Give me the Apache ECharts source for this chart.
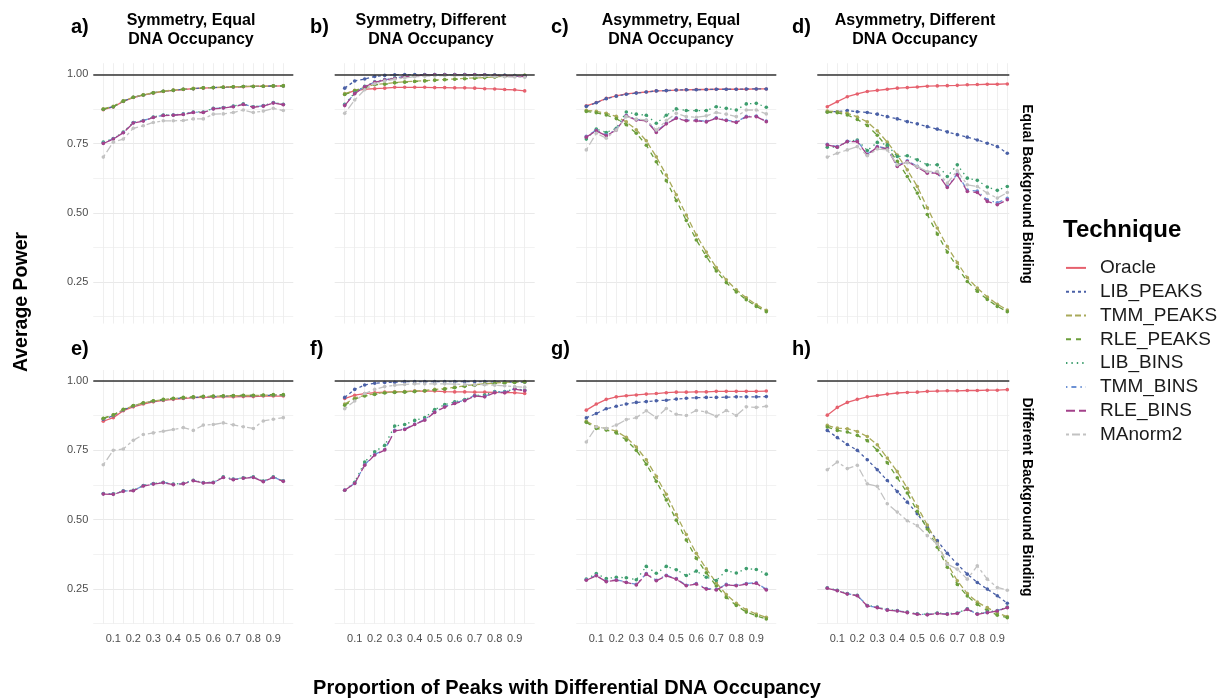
<!DOCTYPE html>
<html>
<head>
<meta charset="utf-8">
<script src="https://cdn.jsdelivr.net/npm/echarts@6/dist/echarts.min.js"></script>
<style>
html,body{margin:0;padding:0;background:#ffffff;}
#chart{width:1222px;height:698px;}
</style>
</head>
<body>
<div id="chart"></div>
<script>
// ---------- categories / ticks ----------
const xValues = [0.05,0.10,0.15,0.20,0.25,0.30,0.35,0.40,0.45,0.50,0.55,0.60,0.65,0.70,0.75,0.80,0.85,0.90,0.95];
const techniques = ['Oracle','LIB_PEAKS','TMM_PEAKS','RLE_PEAKS','LIB_BINS','TMM_BINS','RLE_BINS','MAnorm2'];
const panelIds = ['a','b','c','d','e','f','g','h'];
const panelTitles = ['Symmetry, Equal\nDNA Occupancy','Symmetry, Different\nDNA Occupancy','Asymmetry, Equal\nDNA Occupancy','Asymmetry, Different\nDNA Occupancy'];
const rowStrips = ['Equal Background Binding','Different Background Binding'];
const yTickLabels = [0.25,0.50,0.75,1.00];
const xTickLabels = [0.1,0.2,0.3,0.4,0.5,0.6,0.7,0.8,0.9];

// ---------- panel a ----------
const a_Oracle    = [0.872,0.882,0.902,0.916,0.925,0.932,0.938,0.942,0.945,0.948,0.950,0.952,0.953,0.954,0.955,0.956,0.957,0.957,0.958];
const a_LIB_PEAKS = [0.874,0.883,0.903,0.917,0.925,0.933,0.939,0.942,0.946,0.948,0.951,0.952,0.953,0.954,0.956,0.956,0.957,0.958,0.958];
const a_TMM_PEAKS = [0.875,0.884,0.904,0.917,0.926,0.933,0.939,0.943,0.946,0.949,0.951,0.952,0.954,0.955,0.956,0.957,0.957,0.958,0.959];
const a_RLE_PEAKS = [0.874,0.883,0.903,0.917,0.925,0.933,0.939,0.942,0.946,0.948,0.951,0.952,0.953,0.955,0.956,0.956,0.957,0.958,0.958];
const a_LIB_BINS  = [0.755,0.768,0.791,0.826,0.833,0.846,0.853,0.853,0.857,0.864,0.864,0.877,0.880,0.885,0.893,0.883,0.887,0.898,0.892];
const a_TMM_BINS  = [0.752,0.767,0.790,0.825,0.832,0.845,0.852,0.853,0.856,0.863,0.863,0.876,0.879,0.884,0.892,0.882,0.886,0.897,0.891];
const a_RLE_BINS  = [0.750,0.766,0.789,0.824,0.831,0.844,0.851,0.852,0.855,0.862,0.862,0.875,0.878,0.883,0.891,0.881,0.885,0.896,0.890];
const a_MAnorm2   = [0.701,0.755,0.766,0.805,0.814,0.826,0.832,0.832,0.833,0.839,0.839,0.856,0.857,0.862,0.871,0.862,0.867,0.877,0.869];

// ---------- panel b ----------
const b_Oracle    = [0.928,0.941,0.946,0.948,0.950,0.953,0.953,0.953,0.953,0.952,0.952,0.951,0.951,0.950,0.948,0.947,0.945,0.944,0.940];
const b_LIB_PEAKS = [0.950,0.976,0.983,0.992,0.996,0.998,0.999,0.999,0.999,0.999,0.999,0.999,0.999,0.998,0.998,0.997,0.996,0.995,0.993];
const b_TMM_PEAKS = [0.930,0.942,0.953,0.963,0.966,0.970,0.973,0.975,0.977,0.979,0.981,0.983,0.985,0.987,0.988,0.990,0.993,0.995,0.996];
const b_RLE_PEAKS = [0.927,0.940,0.951,0.962,0.964,0.969,0.971,0.974,0.976,0.978,0.980,0.982,0.984,0.986,0.988,0.990,0.992,0.994,0.996];
const b_LIB_BINS  = [0.892,0.933,0.957,0.973,0.981,0.987,0.992,0.995,0.998,0.999,0.999,0.999,0.999,0.999,0.998,0.997,0.996,0.995,0.994];
const b_TMM_BINS  = [0.889,0.931,0.956,0.972,0.980,0.986,0.992,0.995,0.997,0.998,0.998,0.998,0.998,0.998,0.997,0.996,0.995,0.994,0.993];
const b_RLE_BINS  = [0.887,0.930,0.955,0.971,0.979,0.985,0.991,0.994,0.997,0.998,0.998,0.998,0.998,0.998,0.997,0.996,0.995,0.993,0.992];
const b_MAnorm2   = [0.859,0.907,0.944,0.966,0.976,0.982,0.987,0.991,0.993,0.994,0.995,0.995,0.995,0.994,0.993,0.992,0.991,0.990,0.989];

// ---------- panel c ----------
const c_Oracle    = [0.886,0.898,0.913,0.922,0.929,0.933,0.936,0.940,0.941,0.943,0.944,0.945,0.945,0.946,0.946,0.946,0.946,0.947,0.947];
const c_LIB_PEAKS = [0.884,0.897,0.912,0.921,0.928,0.932,0.936,0.940,0.941,0.943,0.944,0.944,0.945,0.946,0.946,0.946,0.947,0.947,0.947];
const c_TMM_PEAKS = [0.870,0.866,0.859,0.848,0.828,0.800,0.760,0.702,0.636,0.565,0.492,0.420,0.358,0.302,0.258,0.222,0.193,0.168,0.148];
const c_RLE_PEAKS = [0.866,0.861,0.853,0.840,0.818,0.787,0.744,0.684,0.616,0.544,0.472,0.402,0.342,0.290,0.248,0.214,0.186,0.162,0.143];
const c_LIB_BINS  = [0.766,0.802,0.790,0.805,0.864,0.856,0.852,0.823,0.852,0.875,0.869,0.869,0.869,0.883,0.877,0.871,0.893,0.895,0.881];
const c_TMM_BINS  = [0.776,0.798,0.781,0.801,0.852,0.837,0.834,0.793,0.823,0.843,0.834,0.835,0.830,0.843,0.835,0.828,0.848,0.849,0.831];
const c_RLE_BINS  = [0.773,0.796,0.778,0.799,0.850,0.835,0.832,0.790,0.821,0.841,0.832,0.832,0.828,0.841,0.833,0.826,0.846,0.847,0.829];
const c_MAnorm2   = [0.727,0.787,0.769,0.799,0.847,0.838,0.835,0.799,0.833,0.859,0.847,0.845,0.850,0.862,0.856,0.847,0.871,0.871,0.857];

// ---------- panel d ----------
const d_Oracle    = [0.883,0.901,0.919,0.929,0.938,0.942,0.946,0.950,0.952,0.954,0.957,0.958,0.959,0.960,0.962,0.963,0.964,0.964,0.965];
const d_LIB_PEAKS = [0.865,0.865,0.869,0.865,0.862,0.856,0.847,0.839,0.829,0.821,0.811,0.802,0.792,0.782,0.773,0.763,0.751,0.739,0.715];
const d_TMM_PEAKS = [0.867,0.865,0.859,0.846,0.828,0.796,0.755,0.708,0.655,0.595,0.518,0.445,0.378,0.320,0.266,0.228,0.196,0.170,0.149];
const d_RLE_PEAKS = [0.863,0.861,0.853,0.837,0.815,0.780,0.736,0.686,0.631,0.571,0.494,0.423,0.358,0.304,0.252,0.217,0.187,0.162,0.143];
const d_LIB_BINS  = [0.737,0.737,0.757,0.763,0.725,0.754,0.745,0.703,0.706,0.691,0.673,0.673,0.631,0.673,0.625,0.617,0.593,0.581,0.595];
const d_TMM_BINS  = [0.747,0.739,0.758,0.759,0.712,0.739,0.733,0.670,0.688,0.668,0.646,0.646,0.595,0.640,0.582,0.578,0.547,0.536,0.552];
const d_RLE_BINS  = [0.745,0.737,0.757,0.757,0.709,0.737,0.731,0.667,0.685,0.665,0.643,0.643,0.591,0.637,0.577,0.573,0.541,0.529,0.547];
const d_MAnorm2   = [0.701,0.715,0.727,0.739,0.706,0.730,0.727,0.673,0.681,0.667,0.649,0.649,0.607,0.652,0.601,0.595,0.571,0.553,0.573];

// ---------- panel e ----------
const e_Oracle    = [0.855,0.868,0.893,0.907,0.917,0.925,0.930,0.934,0.937,0.940,0.941,0.942,0.943,0.943,0.944,0.944,0.946,0.946,0.946];
const e_LIB_PEAKS = [0.862,0.875,0.896,0.910,0.920,0.927,0.932,0.936,0.939,0.941,0.943,0.944,0.945,0.946,0.947,0.947,0.948,0.949,0.949];
const e_TMM_PEAKS = [0.865,0.877,0.897,0.911,0.921,0.928,0.933,0.937,0.940,0.942,0.944,0.945,0.946,0.947,0.948,0.948,0.949,0.950,0.950];
const e_RLE_PEAKS = [0.866,0.878,0.898,0.912,0.922,0.929,0.934,0.938,0.941,0.943,0.945,0.946,0.947,0.948,0.949,0.949,0.950,0.951,0.951];
const e_LIB_BINS  = [0.594,0.593,0.604,0.606,0.623,0.630,0.635,0.628,0.631,0.642,0.634,0.635,0.654,0.646,0.651,0.654,0.639,0.654,0.640];
const e_TMM_BINS  = [0.593,0.592,0.603,0.605,0.622,0.629,0.634,0.627,0.630,0.641,0.633,0.634,0.653,0.645,0.650,0.653,0.638,0.653,0.639];
const e_RLE_BINS  = [0.592,0.591,0.602,0.604,0.621,0.628,0.633,0.626,0.629,0.640,0.632,0.633,0.652,0.644,0.649,0.652,0.637,0.652,0.638];
const e_MAnorm2   = [0.698,0.750,0.755,0.786,0.807,0.813,0.819,0.825,0.832,0.822,0.841,0.843,0.849,0.842,0.835,0.829,0.856,0.862,0.868];

// ---------- panel f ----------
const f_Oracle    = [0.937,0.949,0.955,0.958,0.960,0.961,0.962,0.964,0.964,0.964,0.962,0.961,0.961,0.960,0.960,0.959,0.958,0.958,0.955];
const f_LIB_PEAKS = [0.941,0.970,0.986,0.992,0.995,0.996,0.998,0.998,0.998,0.998,0.998,0.998,0.998,0.998,0.998,0.997,0.997,0.996,0.996];
const f_TMM_PEAKS = [0.917,0.939,0.948,0.954,0.959,0.961,0.962,0.964,0.966,0.970,0.973,0.978,0.983,0.987,0.990,0.993,0.995,0.997,0.998];
const f_RLE_PEAKS = [0.913,0.935,0.946,0.952,0.957,0.959,0.960,0.962,0.964,0.968,0.971,0.976,0.981,0.985,0.988,0.991,0.993,0.995,0.997];
const f_LIB_BINS  = [0.606,0.635,0.708,0.745,0.768,0.838,0.843,0.858,0.868,0.897,0.915,0.925,0.933,0.948,0.950,0.962,0.962,0.972,0.968];
const f_TMM_BINS  = [0.607,0.631,0.698,0.735,0.753,0.822,0.827,0.845,0.861,0.889,0.908,0.921,0.931,0.948,0.945,0.960,0.960,0.973,0.967];
const f_RLE_BINS  = [0.606,0.630,0.696,0.733,0.751,0.820,0.825,0.843,0.859,0.887,0.906,0.919,0.929,0.946,0.943,0.958,0.958,0.971,0.965];
const f_MAnorm2   = [0.900,0.928,0.955,0.970,0.980,0.985,0.988,0.990,0.990,0.990,0.990,0.989,0.988,0.987,0.987,0.985,0.983,0.980,0.978];

// ---------- panel g ----------
const g_Oracle    = [0.895,0.917,0.934,0.943,0.947,0.950,0.953,0.955,0.958,0.960,0.960,0.961,0.961,0.963,0.963,0.963,0.963,0.963,0.964];
const g_LIB_PEAKS = [0.867,0.883,0.900,0.909,0.917,0.923,0.926,0.929,0.931,0.935,0.938,0.940,0.941,0.941,0.942,0.943,0.943,0.943,0.944];
const g_TMM_PEAKS = [0.855,0.835,0.829,0.819,0.797,0.762,0.716,0.656,0.591,0.518,0.446,0.378,0.322,0.272,0.229,0.198,0.174,0.159,0.147];
const g_RLE_PEAKS = [0.851,0.829,0.823,0.813,0.787,0.750,0.700,0.638,0.571,0.498,0.426,0.360,0.308,0.260,0.219,0.190,0.166,0.153,0.141];
const g_LIB_BINS  = [0.285,0.305,0.287,0.292,0.290,0.283,0.331,0.306,0.331,0.319,0.298,0.314,0.292,0.280,0.316,0.307,0.323,0.320,0.303];
const g_TMM_BINS  = [0.283,0.299,0.277,0.283,0.274,0.266,0.305,0.281,0.299,0.287,0.263,0.269,0.251,0.248,0.266,0.263,0.269,0.272,0.248];
const g_RLE_BINS  = [0.281,0.297,0.276,0.281,0.273,0.264,0.303,0.279,0.297,0.285,0.261,0.267,0.249,0.246,0.264,0.261,0.267,0.270,0.246];
const g_MAnorm2   = [0.780,0.835,0.829,0.841,0.861,0.868,0.893,0.868,0.901,0.880,0.876,0.894,0.888,0.873,0.894,0.876,0.907,0.905,0.909];

// ---------- panel h ----------
const h_Oracle    = [0.877,0.905,0.923,0.934,0.943,0.948,0.953,0.957,0.959,0.960,0.963,0.964,0.965,0.965,0.966,0.966,0.967,0.967,0.969];
const h_LIB_PEAKS = [0.822,0.796,0.771,0.750,0.716,0.680,0.641,0.601,0.563,0.521,0.472,0.424,0.378,0.339,0.303,0.273,0.249,0.225,0.198];
const h_TMM_PEAKS = [0.840,0.830,0.828,0.818,0.800,0.770,0.722,0.673,0.613,0.547,0.480,0.414,0.341,0.279,0.233,0.202,0.182,0.163,0.150];
const h_RLE_PEAKS = [0.834,0.822,0.816,0.804,0.785,0.750,0.705,0.651,0.596,0.530,0.466,0.400,0.328,0.266,0.224,0.194,0.172,0.155,0.146];
const h_LIB_BINS  = [0.254,0.245,0.233,0.227,0.190,0.184,0.175,0.172,0.166,0.160,0.158,0.163,0.160,0.163,0.178,0.160,0.166,0.172,0.184];
const h_TMM_BINS  = [0.253,0.244,0.232,0.226,0.189,0.183,0.174,0.171,0.165,0.159,0.157,0.162,0.159,0.162,0.177,0.159,0.165,0.171,0.183];
const h_RLE_BINS  = [0.252,0.243,0.231,0.225,0.188,0.182,0.173,0.170,0.164,0.158,0.156,0.161,0.158,0.161,0.176,0.158,0.164,0.170,0.182];
const h_MAnorm2   = [0.680,0.708,0.684,0.696,0.629,0.620,0.557,0.527,0.496,0.478,0.442,0.412,0.339,0.321,0.285,0.333,0.285,0.255,0.245];

// ---------- lookup table built from the arrays ----------
const panelData = {
  a:{Oracle:a_Oracle,LIB_PEAKS:a_LIB_PEAKS,TMM_PEAKS:a_TMM_PEAKS,RLE_PEAKS:a_RLE_PEAKS,LIB_BINS:a_LIB_BINS,TMM_BINS:a_TMM_BINS,RLE_BINS:a_RLE_BINS,MAnorm2:a_MAnorm2},
  b:{Oracle:b_Oracle,LIB_PEAKS:b_LIB_PEAKS,TMM_PEAKS:b_TMM_PEAKS,RLE_PEAKS:b_RLE_PEAKS,LIB_BINS:b_LIB_BINS,TMM_BINS:b_TMM_BINS,RLE_BINS:b_RLE_BINS,MAnorm2:b_MAnorm2},
  c:{Oracle:c_Oracle,LIB_PEAKS:c_LIB_PEAKS,TMM_PEAKS:c_TMM_PEAKS,RLE_PEAKS:c_RLE_PEAKS,LIB_BINS:c_LIB_BINS,TMM_BINS:c_TMM_BINS,RLE_BINS:c_RLE_BINS,MAnorm2:c_MAnorm2},
  d:{Oracle:d_Oracle,LIB_PEAKS:d_LIB_PEAKS,TMM_PEAKS:d_TMM_PEAKS,RLE_PEAKS:d_RLE_PEAKS,LIB_BINS:d_LIB_BINS,TMM_BINS:d_TMM_BINS,RLE_BINS:d_RLE_BINS,MAnorm2:d_MAnorm2},
  e:{Oracle:e_Oracle,LIB_PEAKS:e_LIB_PEAKS,TMM_PEAKS:e_TMM_PEAKS,RLE_PEAKS:e_RLE_PEAKS,LIB_BINS:e_LIB_BINS,TMM_BINS:e_TMM_BINS,RLE_BINS:e_RLE_BINS,MAnorm2:e_MAnorm2},
  f:{Oracle:f_Oracle,LIB_PEAKS:f_LIB_PEAKS,TMM_PEAKS:f_TMM_PEAKS,RLE_PEAKS:f_RLE_PEAKS,LIB_BINS:f_LIB_BINS,TMM_BINS:f_TMM_BINS,RLE_BINS:f_RLE_BINS,MAnorm2:f_MAnorm2},
  g:{Oracle:g_Oracle,LIB_PEAKS:g_LIB_PEAKS,TMM_PEAKS:g_TMM_PEAKS,RLE_PEAKS:g_RLE_PEAKS,LIB_BINS:g_LIB_BINS,TMM_BINS:g_TMM_BINS,RLE_BINS:g_RLE_BINS,MAnorm2:g_MAnorm2},
  h:{Oracle:h_Oracle,LIB_PEAKS:h_LIB_PEAKS,TMM_PEAKS:h_TMM_PEAKS,RLE_PEAKS:h_RLE_PEAKS,LIB_BINS:h_LIB_BINS,TMM_BINS:h_TMM_BINS,RLE_BINS:h_RLE_BINS,MAnorm2:h_MAnorm2}
};

// ---------- styles ----------
const FONT = 'Liberation Sans, Arial, Helvetica, sans-serif';
const techColors = {
  Oracle:'#E6616E', LIB_PEAKS:'#4A60A6', TMM_PEAKS:'#A9AA5A', RLE_PEAKS:'#6B9E3B',
  LIB_BINS:'#3E9E6E', TMM_BINS:'#6C91D4', RLE_BINS:'#A3418A', MAnorm2:'#C2C2C2'
};
const techDash = {
  Oracle:'solid', LIB_PEAKS:[3,3], TMM_PEAKS:[6,3], RLE_PEAKS:[5,5],
  LIB_BINS:[1.4,4], TMM_BINS:[1.4,4,5,4], RLE_BINS:[9,4], MAnorm2:[3,3,8,3]
};
const colLeft = [93.3, 334.7, 576.3, 817.3];
const colWidth = [200, 200, 200, 192];
const colXMax = [1, 1, 1, 0.96];
const rowTop = [63.2, 370];
const rowYMin = [0.1, 0.125];
const rowHeight = [(1.04-0.1)*277, (1.04-0.125)*277];
const MAJ = '#e6e6e6', MIN = '#f1f1f1', NONE = 'rgba(0,0,0,0)';
const rowGridColors = [
  [NONE,MIN,NONE,NONE,NONE,NONE,MAJ,NONE,NONE,NONE],
  [MIN,NONE,NONE,NONE,NONE,MAJ,NONE,NONE,NONE,NONE]
];

const grids = [], xAxes = [], yAxes = [], series = [];
panelIds.forEach((pid, gi) => {
  const row = gi < 4 ? 0 : 1;
  const col = gi % 4;
  grids.push({left: colLeft[col], top: rowTop[row], width: colWidth[col], height: rowHeight[row], containLabel:false});
  xAxes.push({
    type:'value', gridIndex:gi, min:0, max:colXMax[col], interval:0.05,
    axisLine:{show:false}, axisTick:{show:false},
    splitLine:{show:true, showMinLine:false, showMaxLine:false, lineStyle:{color:'#ebebeb', width:0.8}},
    axisLabel:{
      show: row === 1, margin: 10, fontSize: 11, color:'#4d4d4d', fontFamily: FONT,
      formatter: v => { const r = Math.round(v*100); return xTickLabels.some(t => Math.round(t*100) === r) ? (r/100).toFixed(1) : ''; }
    }
  });
  yAxes.push({
    type:'value', gridIndex:gi, min:rowYMin[row], max:1.04, interval:0.025,
    axisLine:{show:false}, axisTick:{show:false},
    splitLine:{show:true, showMaxLine:false, lineStyle:{color: rowGridColors[row], width:0.9}},
    axisLabel:{
      show: col === 0, margin: 5, fontSize: 11, color:'#4d4d4d', fontFamily: FONT,
      formatter: v => { const r = Math.round(v*1000); return yTickLabels.some(t => Math.round(t*1000) === r) ? (r/1000).toFixed(2) : ''; }
    }
  });
  techniques.forEach((t, ti) => {
    const vals = panelData[pid][t];
    const s = {
      name: t, type:'line', xAxisIndex:gi, yAxisIndex:gi,
      data: xValues.map((x, i) => [x, vals[i]]),
      symbol:'circle', symbolSize:3.6, showSymbol:true,
      lineStyle:{color:techColors[t], width:1.3, type:techDash[t]},
      itemStyle:{color:techColors[t]},
      silent:true, animation:false, clip:true, z: 2 + ti * 0.01
    };
    if (ti === 0) {
      s.markLine = {
        silent:true, symbol:['none','none'], animation:false,
        label:{show:false},
        lineStyle:{color:'#333333', width:1.5, type:'solid'},
        data:[{yAxis:1}]
      };
    }
    series.push(s);
  });
});

// ---------- text annotations ----------
const graphics = [];
function addText(text, x, y, size, opts) {
  opts = opts || {};
  graphics.push({
    type:'text', x:x, y:y, rotation: opts.rotation || 0, silent:true,
    style:{
      text:text, fontSize:size, fontWeight: opts.weight || 'bold', fontFamily: FONT,
      fill: opts.fill || '#000000',
      align: opts.align || 'center', verticalAlign:'middle',
      textAlign: opts.align || 'center', textVerticalAlign:'middle',
      lineHeight: opts.lineHeight
    }
  });
}
const labelX = [71, 310, 551, 792];
const titleX = [191, 431, 671, 915];
panelIds.forEach((pid, gi) => {
  const row = gi < 4 ? 0 : 1, col = gi % 4;
  addText(pid + ')', labelX[col], row === 0 ? 27 : 349, 20, {align:'left'});
});
panelTitles.forEach((t, col) => addText(t, titleX[col], 30, 16, {lineHeight:18.6}));
addText(rowStrips[0], 1027, 194, 14, {rotation:-Math.PI/2});
addText(rowStrips[1], 1027, 497, 14, {rotation:-Math.PI/2});
addText('Average Power', 22, 302, 19.5, {rotation:Math.PI/2});
addText('Proportion of Peaks with Differential DNA Occupancy', 567, 688, 20);
addText('Technique', 1063, 230, 24, {align:'left'});

const chart = echarts.init(document.getElementById('chart'), null, {renderer:'canvas'});
chart.setOption({
  backgroundColor:'#ffffff',
  animation:false,
  grid: grids,
  xAxis: xAxes,
  yAxis: yAxes,
  series: series,
  legend:{
    data: techniques, orient:'vertical', left:1060, top:253.4,
    itemWidth:20, itemHeight:14, itemGap:4.8,
    itemStyle:{opacity:0},
    lineStyle:{width:2},
    selectedMode:false,
    textStyle:{fontSize:19, fontFamily:FONT, color:'#1a1a1a', padding:[0,0,0,9]}
  },
  graphic: graphics
});
</script>
</body>
</html>
